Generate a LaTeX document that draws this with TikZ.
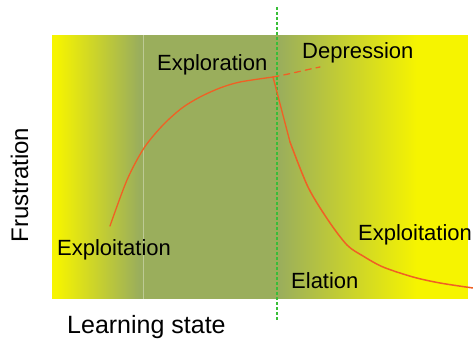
\documentclass[tikz,border=0pt]{standalone}
\usepackage{fontspec}
\setmainfont{Liberation Sans}
\definecolor{olivegreen}{RGB}{154,174,92}
\definecolor{brightyellow}{RGB}{246,244,0}
\definecolor{curveorange}{RGB}{240,96,36}
\definecolor{splitgreen}{RGB}{56,190,56}
\begin{document}
\begin{tikzpicture}[x=1pt,y=-1pt,
  lbl/.style={font=\fontsize{22}{24}\selectfont, inner sep=0pt, anchor=base west},
  axislbl/.style={font=\fontsize{25}{28}\selectfont, inner sep=0pt, anchor=base west},
  curve/.style={curveorange, line width=1.3pt, line cap=round, line join=round}]
\useasboundingbox (0,0) rectangle (473,342);

% background bands: yellow -> green -> yellow, built from thin strips
\fill[olivegreen] (52,35) rectangle (468,299);
\fill[brightyellow] (52,35) rectangle (57,299);
\foreach \i in {0,...,83} {
  \pgfmathsetmacro\p{100*\i/83}
  \fill[olivegreen!\p!brightyellow] ({56+\i},35) rectangle ({57.3+\i},299);
}
\foreach \i in {0,...,138} {
  \pgfmathsetmacro\p{100*\i/138}
  \fill[brightyellow!\p!olivegreen] ({279+\i},35) rectangle ({280.3+\i},299);
}
\fill[brightyellow] (417.5,35) rectangle (468,299);

% faint boundary of the exploration band
\draw[olivegreen!65!white, line width=0.8pt] (143,35) -- (143,299);

% dotted split line
\draw[splitgreen, line width=1.2pt, dash pattern=on 3pt off 2pt] (277,7) -- (277,321);

% frustration curve
\coordinate (peak) at (273,77);
\coordinate (kink) at (290,142);
\draw[curve] plot[smooth, tension=0.5] coordinates
  {(110,226) (127,180) (144,148) (163,125) (182,108) (200,97) (220,88) (240,82) (273,77)};
\draw[curve, dash pattern=on 6pt off 5pt] (peak) .. controls (290,74) and (305,70) .. (320,67);
\draw[curve] (peak) -- (kink);
\draw[curve, line width=1.5pt] plot[smooth, tension=0.5] coordinates
  {(290,142) (308,187) (328,220) (347,245) (363,256) (383,267) (413,277) (440,283) (473,288)};

% labels
\node[lbl] (explor) at (157,71) {Exploration};
\node[lbl] (depr) at (302,59) {Depression};
\node[lbl] (exploitL) at (57,255) {Exploitation};
\node[lbl] (exploitR) at (358,240) {Exploitation};
\node[lbl] (elat) at (291,288) {Elation};
\node[axislbl] (xlab) at (67,333) {Learning state};
\node[font=\fontsize{24}{27}\selectfont, inner sep=0pt, anchor=base, rotate=90] (ylab) at (28,185) {Frustration};
\end{tikzpicture}
\end{document}
